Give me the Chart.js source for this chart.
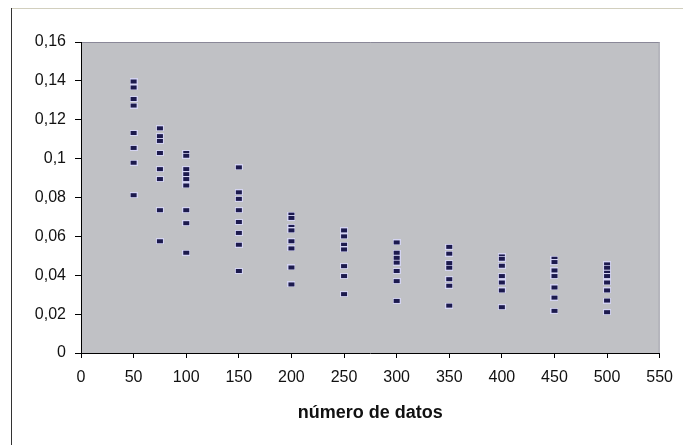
<!DOCTYPE html>
<html>
<head>
<meta charset="utf-8">
<script src="https://cdn.jsdelivr.net/npm/chart.js@4"></script>
<style>
  html, body { margin: 0; padding: 0; background: #fff; }
  #wrap { width: 683px; height: 445px; position: relative; }
</style>
</head>
<body>
<div id="wrap"><canvas id="chart" width="683" height="445"></canvas></div>
<script>
// número de datos (x) and the values read for each one
const sampleSizes = [50, 75, 100, 150, 200, 250, 300, 350, 400, 450, 500];
const n50  = [0.1397, 0.1366, 0.1307, 0.1273, 0.1132, 0.1055, 0.0979, 0.0812];
const n75  = [0.1156, 0.1116, 0.1091, 0.1029, 0.0946, 0.0895, 0.0735, 0.0575];
const n100 = [0.1029, 0.1015, 0.0946, 0.0920, 0.0895, 0.0862, 0.0735, 0.0668, 0.0516];
const n150 = [0.0955, 0.0827, 0.0793, 0.0735, 0.0674, 0.0618, 0.0557, 0.0422];
const n200 = [0.0712, 0.0695, 0.0649, 0.0631, 0.0575, 0.0538, 0.0440, 0.0353];
const n250 = [0.0631, 0.0600, 0.0557, 0.0533, 0.0447, 0.0396, 0.0303];
const n300 = [0.0569, 0.0516, 0.0490, 0.0465, 0.0422, 0.0370, 0.0268];
const n350 = [0.0546, 0.0511, 0.0463, 0.0439, 0.0380, 0.0346, 0.0244];
const n400 = [0.0497, 0.0485, 0.0449, 0.0396, 0.0363, 0.0322, 0.0236];
const n450 = [0.0485, 0.0468, 0.0425, 0.0396, 0.0337, 0.0285, 0.0217];
const n500 = [0.0456, 0.0439, 0.0413, 0.0396, 0.0363, 0.0322, 0.0270, 0.0210];
const groups = [n50, n75, n100, n150, n200, n250, n300, n350, n400, n450, n500];

const xTicks = [0, 50, 100, 150, 200, 250, 300, 350, 400, 450, 500, 550];
const yTicks = [0, 0.02, 0.04, 0.06, 0.08, 0.1, 0.12, 0.14, 0.16];

// build scatter points
const points = [];
groups.forEach((vals, i) => {
  vals.forEach(v => points.push({ x: sampleSizes[i], y: v }));
});

// little dash marker with a light halo
const marker = document.createElement('canvas');
marker.width = 8;
marker.height = 6;
const mctx = marker.getContext('2d');
mctx.fillStyle = '#d4d4f2';
mctx.fillRect(0, 0, 8, 6);
mctx.fillStyle = '#1c1a4e';
mctx.fillRect(1, 1, 6, 4);

const fontFam = '"Liberation Sans", Arial, sans-serif';

// frame lines and plot background
const framePlugin = {
  id: 'frame',
  beforeDraw(chart) {
    const c = chart.ctx;
    const a = chart.chartArea;
    c.save();
    c.fillStyle = '#c0c1c5';
    c.fillRect(a.left, a.top, a.right - a.left, a.bottom - a.top);
    c.strokeStyle = '#8a8898';
    c.lineWidth = 1;
    c.beginPath();
    c.moveTo(a.left, a.top + 0.5);
    c.lineTo(a.right, a.top + 0.5);
    c.stroke();
    c.strokeStyle = '#a4a4ae';
    c.beginPath();
    c.moveTo(a.right - 0.5, a.top);
    c.lineTo(a.right - 0.5, a.bottom);
    c.stroke();
    // outer chart border
    c.strokeStyle = '#d2cfbe';
    c.beginPath();
    c.moveTo(11, 8.5);
    c.lineTo(683, 8.5);
    c.stroke();
    c.strokeStyle = '#333';
    c.beginPath();
    c.moveTo(11.5, 8);
    c.lineTo(11.5, 445);
    c.stroke();
    c.restore();
  }
};

new Chart(document.getElementById('chart'), {
  type: 'scatter',
  data: {
    datasets: [{
      data: points,
      pointStyle: marker,
      pointRadius: 3,
      pointHoverRadius: 3
    }]
  },
  options: {
    responsive: false,
    animation: false,
    layout: { padding: { top: 42, right: 21, left: 0, bottom: 0 } },
    plugins: {
      legend: { display: false },
      tooltip: { enabled: false }
    },
    scales: {
      x: {
        type: 'linear',
        min: 0,
        max: 550,
        afterBuildTicks: axis => { axis.ticks = xTicks.map(v => ({ value: v })); },
        afterFit: axis => { axis.height = 92; },
        border: { display: true, color: '#000', width: 1 },
        grid: { drawOnChartArea: false, drawTicks: true, tickLength: 5, color: '#000' },
        ticks: {
          padding: 10,
          maxRotation: 0,
          color: '#111',
          font: { family: fontFam, size: 16 }
        },
        title: {
          display: true,
          text: 'número de datos',
          color: '#111',
          font: { family: fontFam, size: 18, weight: 'bold' },
          padding: { top: 0, bottom: 21 }
        }
      },
      y: {
        min: 0,
        max: 0.16,
        afterBuildTicks: axis => { axis.ticks = yTicks.map(v => ({ value: v })); },
        afterFit: axis => { axis.width = 81; },
        border: { display: true, color: '#000', width: 1 },
        grid: { drawOnChartArea: false, drawTicks: true, tickLength: 6, color: '#000' },
        ticks: {
          padding: 9,
          color: '#111',
          font: { family: fontFam, size: 16 },
          callback: v => String(+v.toFixed(2)).replace('.', ',')
        }
      }
    }
  },
  plugins: [framePlugin]
});
</script>
</body>
</html>
